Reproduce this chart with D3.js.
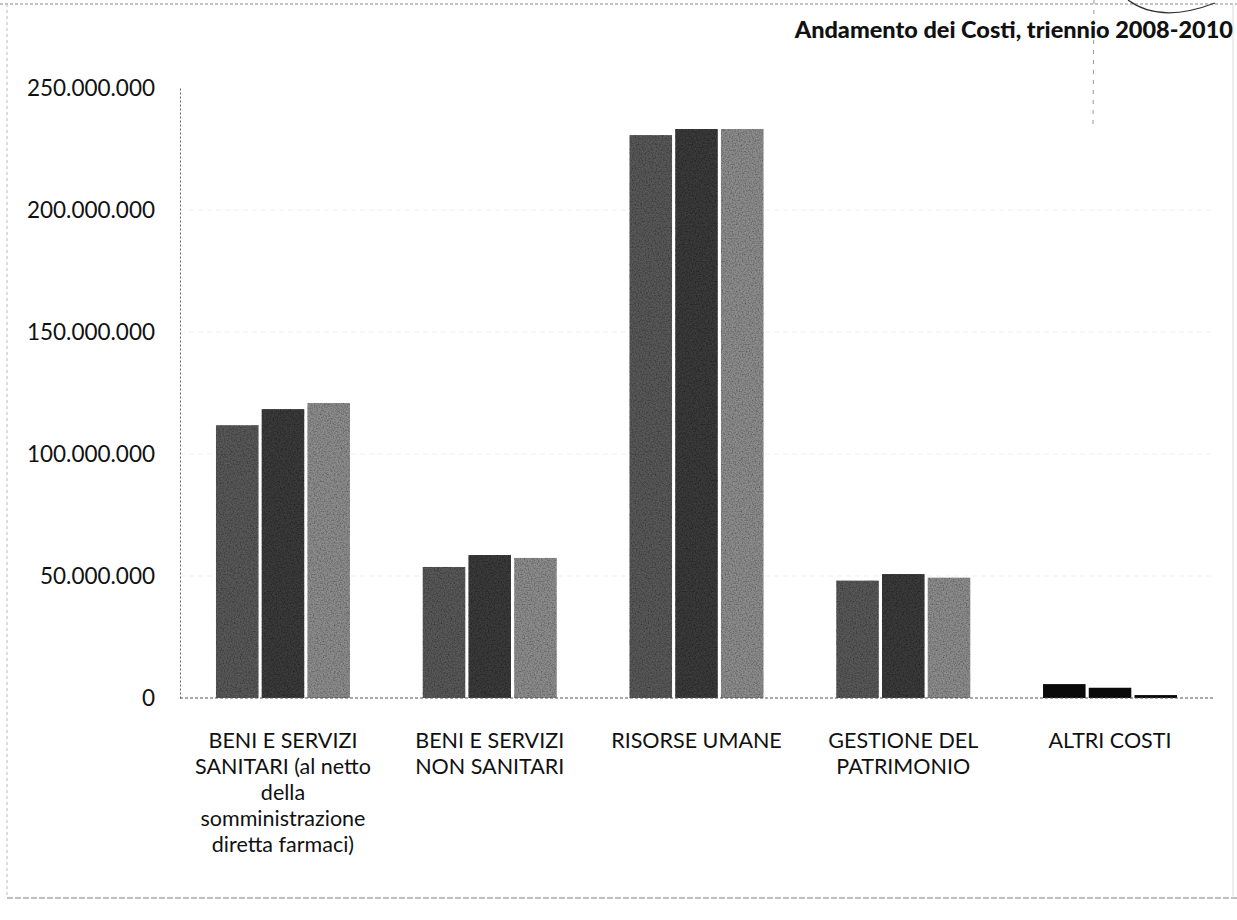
<!DOCTYPE html>
<html>
<head>
<meta charset="utf-8">
<script src="https://cdn.jsdelivr.net/npm/d3@7"></script>
<style>
  html, body { margin: 0; padding: 0; background: #fff; }
  svg { display: block; }
  text { font-family: Lato, "Open Sans", sans-serif; fill: #111; }
</style>
</head>
<body>
<svg id="chart" width="1237" height="920"></svg>
<script>
// ---- data ----
const categories = [
  ["BENI E SERVIZI", "SANITARI (al netto", "della", "somministrazione", "diretta farmaci)"],
  ["BENI E SERVIZI", "NON SANITARI"],
  ["RISORSE UMANE"],
  ["GESTIONE DEL", "PATRIMONIO"],
  ["ALTRI COSTI"]
];
const years = ["2008", "2009", "2010"];
const values2008 = [111800000, 53700000, 230700000, 48100000, 5700000];
const values2009 = [118400000, 58600000, 233200000, 50800000, 4200000];
const values2010 = [120900000, 57400000, 233200000, 49300000, 1200000];
const yTicks = [0, 50000000, 100000000, 150000000, 200000000, 250000000];
const title = "Andamento dei Costi, triennio 2008-2010";

const series = [values2008, values2009, values2010];
const catIdx = categories.map((d, i) => i);

// ---- layout ----
const svg = d3.select("#chart");
const W = 1237, H = 920;
const mLeft = 180, mRight = 1213, mTop = 88, mBottom = 698;

const x = d3.scaleBand().domain(catIdx).range([mLeft, mRight]).paddingInner(0.352).paddingOuter(0.174);
const xs = d3.scaleBand().domain(d3.range(years.length)).range([0, x.bandwidth()]).paddingInner(0.07).paddingOuter(0);
const y = d3.scaleLinear().domain([0, 250000000]).range([mBottom, mTop]);

const fmt = v => d3.format(",")(v).replace(/,/g, ".");

// noise filter to mimic scanned texture
const defs = svg.append("defs");
const f = defs.append("filter").attr("id", "grain").attr("x", 0).attr("y", 0).attr("width", 1).attr("height", 1);
f.append("feTurbulence").attr("type", "fractalNoise").attr("baseFrequency", 0.7).attr("numOctaves", 2).attr("seed", 3).attr("result", "noise");
f.append("feColorMatrix").attr("in", "noise").attr("type", "matrix")
  .attr("values", "0 0 0 0 0  0 0 0 0 0  0 0 0 0 0  0 0 0 1.2 -0.45").attr("result", "dark");
f.append("feComposite").attr("in", "dark").attr("in2", "SourceGraphic").attr("operator", "in").attr("result", "darkIn");
f.append("feMerge").selectAll("feMergeNode").data(["SourceGraphic", "darkIn"]).join("feMergeNode").attr("in", d => d);

// page frame (scan borders)
svg.append("line").attr("x1", 0).attr("x2", W).attr("y1", 4).attr("y2", 4)
  .attr("stroke", "#888").attr("stroke-width", 1).attr("stroke-dasharray", "3,2");
svg.append("line").attr("x1", 7).attr("x2", 7).attr("y1", 4).attr("y2", 898)
  .attr("stroke", "#bbb").attr("stroke-width", 1).attr("stroke-dasharray", "3,3");
svg.append("line").attr("x1", 7).attr("x2", W).attr("y1", 898).attr("y2", 898)
  .attr("stroke", "#aaa").attr("stroke-width", 1.5).attr("stroke-dasharray", "6,2");
svg.append("line").attr("x1", 1233).attr("x2", 1233).attr("y1", 4).attr("y2", 898)
  .attr("stroke", "#ddd").attr("stroke-width", 1);
// stamp remnants
svg.append("path").attr("d", "M1128,0 Q1160,24 1215,3").attr("fill", "none").attr("stroke", "#333").attr("stroke-width", 1.3);
svg.append("line").attr("x1", 1094).attr("x2", 1093).attr("y1", 0).attr("y2", 125)
  .attr("stroke", "#999").attr("stroke-width", 1).attr("stroke-dasharray", "4,6");

// gridlines (very faint)
svg.append("g").selectAll("line").data(yTicks.filter(t => t > 0 && t < 250000000)).join("line")
  .attr("x1", mLeft).attr("x2", mRight).attr("y1", d => y(d)).attr("y2", d => y(d))
  .attr("stroke", "#f0f0f0").attr("stroke-width", 1).attr("stroke-dasharray", "5,4");

// y axis
const yAxis = svg.append("g").attr("transform", `translate(${mLeft},0)`)
  .call(d3.axisLeft(y).tickValues(yTicks).tickFormat(fmt).tickSize(0).tickPadding(25));
yAxis.select(".domain").attr("stroke", "#666").attr("stroke-dasharray", "2,2");
yAxis.selectAll("text").style("font-size", "22.5px").attr("fill", "#111");

// bars
const colors = ["#595959", "#3a3a3a", "#8c8c8c"];
const groups = svg.append("g").selectAll("g").data(catIdx).join("g")
  .attr("transform", d => `translate(${x(d)},0)`);
groups.selectAll("rect").data(ci => series.map((s, si) => ({ci, si, v: s[ci]}))).join("rect")
  .attr("x", d => xs(d.si))
  .attr("width", xs.bandwidth())
  .attr("y", d => y(d.v))
  .attr("height", d => y(0) - y(d.v))
  .attr("fill", d => d.ci === 4 ? "#0a0a0a" : colors[d.si])
  .attr("filter", d => d.ci === 4 ? null : "url(#grain)");

// x baseline
svg.append("line").attr("x1", mLeft).attr("x2", mRight).attr("y1", y(0)).attr("y2", y(0))
  .attr("stroke", "#555").attr("stroke-width", 1.2).attr("stroke-dasharray", "3,2");

// x labels
const xl = svg.append("g").selectAll("text").data(catIdx).join("text")
  .attr("x", d => x(d) + x.bandwidth() / 2)
  .attr("y", 748)
  .attr("text-anchor", "middle")
  .style("font-size", "21.5px");
xl.selectAll("tspan").data(d => categories[d]).join("tspan")
  .attr("x", function() { return d3.select(this.parentNode).attr("x"); })
  .attr("dy", (d, i) => i === 0 ? 0 : 26)
  .text(d => d);

// title
svg.append("text").attr("x", 1233).attr("y", 38).attr("text-anchor", "end")
  .style("font-size", "23.5px").style("font-weight", "900").text(title);
</script>
</body>
</html>
